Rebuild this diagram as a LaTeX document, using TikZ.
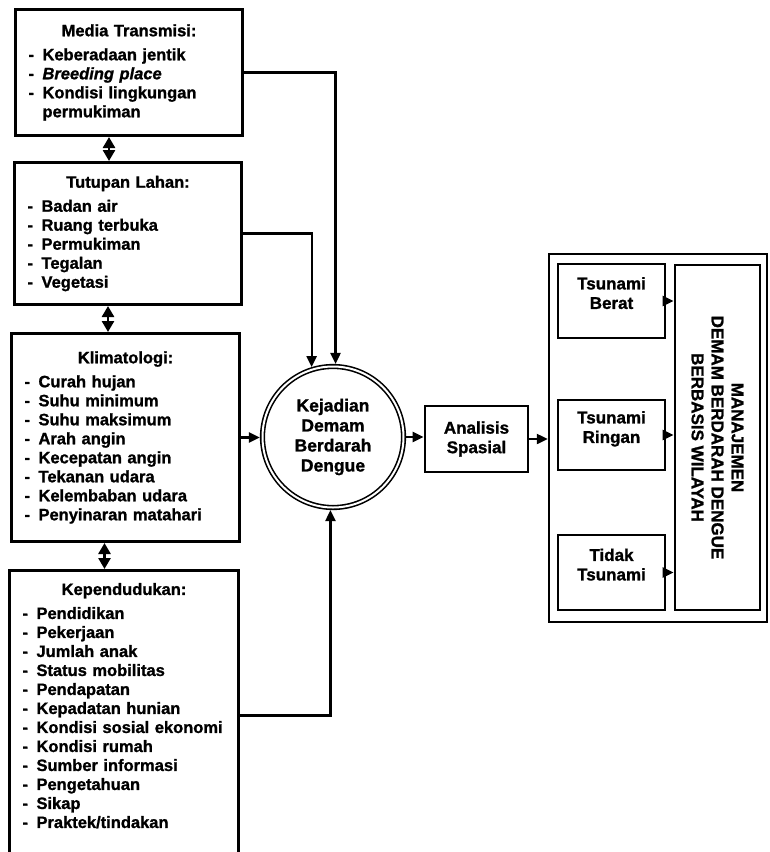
\documentclass[tikz,border=0pt]{standalone}
\usepackage{fontspec}
\setmainfont{Liberation Sans}[BoldFeatures={FakeBold=1.2}, BoldItalicFeatures={FakeBold=1.2}]
\usepackage{graphicx}
\usetikzlibrary{arrows.meta}
\newcommand{\butir}{\makebox[14pt][l]{-}}
\newcommand{\turun}{\rule[-16pt]{0pt}{16pt}}

\begin{document}
\begin{tikzpicture}[x=1pt, y=-1pt,
  faktor/.style={rectangle, draw, line width=3pt, anchor=north west, align=left,
                 inner xsep=13pt, inner ysep=0pt, font=\bfseries\fontsize{16.5}{19}\selectfont},
  kotak/.style={rectangle, draw, line width=2.8pt, align=center,
                font=\bfseries\fontsize{17}{19.5}\selectfont},
  kejadian/.style={circle, draw, double, double distance=2pt, line width=1.6pt,
                   minimum size=141pt, outer sep=2.6pt, align=center,
                   font=\bfseries\fontsize{17.5}{20}\selectfont},
  wadah/.style={rectangle, draw, line width=2.4pt},
  panah/.style={-{Triangle[length=11pt,width=10pt]}, line width=2.2pt},
  duaarah/.style={{Triangle[length=11pt,width=12pt]}-{Triangle[length=11pt,width=12pt]}, line width=2.6pt},
]
\useasboundingbox (0,0) rectangle (770,852);
\node[faktor, text width=201pt, minimum height=126pt] (media) at (14,8)
  {{\centering Media Transmisi:\par}\vspace{5pt}
   \butir Keberadaan jentik\\
   \butir \textit{Breeding place}\\
   \butir Kondisi lingkungan\\
   \hspace*{14pt}permukiman};
\node[faktor, text width=201pt, minimum height=142pt] (tutupan) at (13,161)
  {{\centering Tutupan Lahan:\par}\vspace{5pt}
   \butir Badan air\\
   \butir Ruang terbuka\\
   \butir Permukiman\\
   \butir Tegalan\\
   \butir Vegetasi};
\node[faktor, text width=202pt, minimum height=208pt] (klimat) at (10,332)
  {{\centering Klimatologi:\par}\vspace{5pt}
   \butir Curah hujan\\
   \butir Suhu minimum\\
   \butir Suhu maksimum\\
   \butir Arah angin\\
   \butir Kecepatan angin\\
   \butir Tekanan udara\\
   \butir Kelembaban udara\\
   \butir Penyinaran matahari};
\node[faktor, text width=203pt, minimum height=290pt] (penduduk) at (8,569)
  {{\centering Kependudukan:\par}\vspace{5pt}
   \butir Pendidikan\\
   \butir Pekerjaan\\
   \butir Jumlah anak\\
   \butir Status mobilitas\\
   \butir Pendapatan\\
   \butir Kepadatan hunian\\
   \butir Kondisi sosial ekonomi\\
   \butir Kondisi rumah\\
   \butir Sumber informasi\\
   \butir Pengetahuan\\
   \butir Sikap\\
   \butir Praktek/tindakan\rule[-20pt]{0pt}{20pt}};
\draw[duaarah] ([xshift=-20pt]media.south) -- ([xshift=-20pt]media.south |- tutupan.north);
\draw[duaarah] ([xshift=-20pt]tutupan.south) -- ([xshift=-20pt]tutupan.south |- klimat.north);
\draw[duaarah] ([xshift=-21pt]klimat.south) -- ([xshift=-21pt]klimat.south |- penduduk.north);
\node[kejadian] (kdbd) at (333,437) {Kejadian\\Demam\\Berdarah\\Dengue};
\node[kotak, minimum width=103pt, minimum height=66pt] (analisis) at (476.5,439) {Analisis\\Spasial};
\node[wadah, minimum width=218pt, minimum height=368pt] (zona) at (658,438) {};
\node[kotak, minimum width=107pt, minimum height=74pt] (berat) at (611.5,301) {Tsunami\\Berat\turun};
\node[kotak, minimum width=107pt, minimum height=70pt] (ringan) at (611.5,435) {Tsunami\\Ringan\turun};
\node[kotak, minimum width=107pt, minimum height=75pt] (tidak) at (611.5,572.5) {Tidak\\Tsunami\turun};
\node[kotak, rotate=-90, minimum width=345pt, minimum height=85pt,
      font=\bfseries\fontsize{17}{20}\selectfont] (manajemen) at (717.5,437.5)
  {MANAJEMEN\\DEMAM BERDARAH DENGUE\\BERBASIS WILAYAH};
\draw[panah] (media.east) -| (kdbd.88);
\draw[panah] (tutupan.east) -| (kdbd.107);
\draw[panah] (klimat.east) -- (klimat.east -| kdbd.west);
\draw[panah] (penduduk.east) -| (kdbd.268);
\draw[panah] (kdbd.east) -- (kdbd.east -| analisis.west);
\draw[panah] (analisis.east) -- (analisis.east -| zona.west);
\draw[panah] (berat.east) -- (berat.east -| manajemen.south);
\draw[panah] (ringan.east) -- (ringan.east -| manajemen.south);
\draw[panah] (tidak.east) -- (tidak.east -| manajemen.south);
\end{tikzpicture}
\end{document}
